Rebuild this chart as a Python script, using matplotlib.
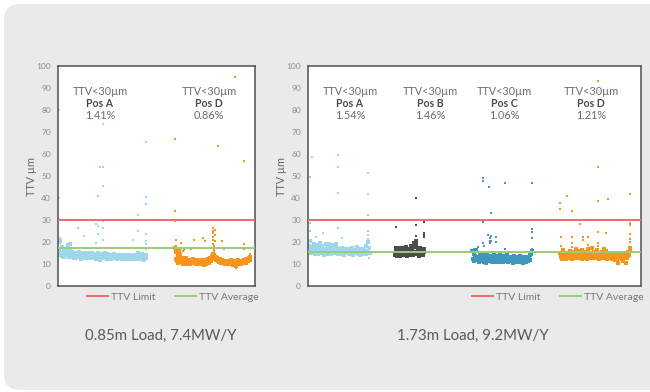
import numpy as np
import matplotlib
matplotlib.use("Agg")
import matplotlib.pyplot as plt
from matplotlib.patches import FancyBboxPatch
from matplotlib.lines import Line2D
from matplotlib.transforms import IdentityTransform

plt.rcParams['font.family'] = ['Lato', 'DejaVu Sans']

# ---------------- data ----------------
TTV_LIMIT = 30
avg_left = 17.3
avg_right = 15.3

pos_colors = {"Pos A": "#9fd7ea", "Pos B": "#4d4d4d", "Pos C": "#3e98bb", "Pos D": "#f7941e"}

# 0.85m load: per-position TTV readings (µm), in measurement order
left_a = [16.8, 14.2, 20.5, 15.1, 13.6, 17.9, 14.8, 13.2, 15.9, 14.4, 16.2, 13.8, 15.3, 18.6, 14.1,
          13.4, 16.0, 18.9, 14.7, 13.1, 15.5, 14.0, 12.8, 15.2, 13.9, 14.6, 12.9, 15.0, 14.3, 13.5,
          15.4, 13.0, 14.8, 12.4, 14.1, 15.2, 13.6, 12.9, 14.5, 13.3, 15.0, 13.8, 12.6, 14.4, 13.2,
          14.9, 13.5, 12.7, 14.2, 13.9, 15.1, 12.8, 13.7, 14.6, 13.1, 12.5, 14.3, 13.6, 15.0, 12.9,
          14.0, 13.3, 11.6, 14.7, 13.4, 12.8, 14.1, 13.7, 12.6, 14.8, 13.0, 13.9, 12.5, 14.4, 13.2,
          12.9, 14.2, 13.6, 12.3, 14.0, 13.4, 12.8, 14.5, 13.1, 12.6, 13.8, 14.1, 12.4, 13.5, 12.9,
          14.3, 13.2, 12.7, 13.9, 12.5, 13.6, 14.0, 12.3, 13.3, 12.8, 14.2, 13.0, 12.6, 13.7, 12.2,
          13.4, 14.1, 12.7, 13.1, 12.4, 13.8, 12.9, 13.5, 12.1, 14.0, 13.2, 12.6, 13.6, 12.3, 15.1,
          13.0, 12.5, 13.7, 12.2, 13.3, 14.6, 12.8, 13.4, 12.0, 13.1, 14.2, 12.6]
left_a_out_idx = [0, 0, 0, 1, 2, 28, 37, 55, 55, 58, 58, 58, 61, 66, 66, 66, 66, 66, 66,
                  111, 118, 118, 130, 130, 130, 131, 131, 131, 131]
left_a_out_val = [80.0, 40.0, 30.5, 22.0, 19.5, 26.5, 22.7, 28.0, 19.5, 41.0, 27.5, 23.8, 54.0,
                  54.0, 73.6, 45.6, 29.5, 26.5, 21.0, 21.0, 32.4, 25.2, 65.3, 40.5, 37.4,
                  23.8, 20.5, 19.0, 17.0]

left_d = [17.2, 12.4, 15.6, 11.3, 13.8, 10.6, 16.4, 11.9, 14.5, 10.9, 12.8, 11.5, 10.2, 12.1, 11.0,
          10.5, 11.8, 12.6, 10.1, 11.4, 10.8, 12.0, 9.9, 11.2, 10.6, 11.7, 10.3, 12.2, 11.0, 10.4,
          11.5, 10.0, 11.9, 10.7, 11.1, 9.8, 11.6, 10.4, 12.0, 10.9, 10.2, 11.3, 10.6, 9.7, 11.8,
          10.5, 11.0, 10.1, 11.7, 10.8, 12.3, 10.4, 11.5, 12.8, 11.2, 13.5, 12.1, 14.6, 12.9, 13.9,
          12.4, 13.2, 11.8, 12.6, 11.3, 11.9, 10.9, 12.2, 11.1, 10.6, 11.6, 10.3, 11.0, 10.7, 11.4,
          10.2, 11.1, 10.8, 9.9, 11.5, 10.5, 11.2, 10.0, 10.8, 11.6, 10.3, 11.0, 9.6, 10.7, 11.3,
          10.4, 9.2, 11.1, 10.6, 10.9, 11.8, 10.1, 10.5, 11.4, 9.9, 10.8, 11.2, 10.3, 11.6, 10.7,
          11.0, 12.1, 10.6, 11.8, 12.5, 11.3, 12.9, 11.7, 13.4]
left_d_out_idx = [0, 0, 0, 1, 1, 1, 2, 9, 12, 13, 24, 28, 42, 45, 57, 57, 57, 57, 57, 57, 57, 58,
                  58, 58, 60, 60, 60, 64, 70, 73, 90, 91, 103, 103, 104, 112, 113]
left_d_out_val = [66.7, 33.9, 29.5, 21.0, 18.0, 16.5, 15.0, 19.7, 16.0, 16.3, 16.9, 21.0, 21.8,
                  20.4, 26.5, 25.0, 24.0, 22.5, 21.0, 19.0, 17.5, 18.3, 16.8, 15.9, 25.5, 23.0,
                  20.3, 63.6, 20.4, 16.8, 95.2, 8.0, 18.9, 57.0, 17.0, 14.5, 13.8]

# 1.73m load
right_a = [18.2, 15.1, 20.4, 16.6, 14.8, 17.9, 15.5, 19.2, 16.1, 14.6, 17.3, 18.8, 15.0, 16.9, 14.4,
           17.6, 15.8, 19.5, 16.3, 14.9, 18.1, 15.4, 17.0, 14.3, 16.7, 18.9, 15.2, 17.4, 14.7, 16.0,
           19.0, 15.6, 17.8, 14.5, 16.4, 18.5, 15.1, 17.2, 14.8, 16.8, 19.3, 15.3, 17.5, 14.6, 16.2,
           15.0, 16.9, 14.4, 15.8, 17.1, 14.9, 16.3, 15.4, 14.2, 16.6, 15.7, 14.8, 17.0, 15.2, 16.1,
           14.5, 15.9, 16.8, 14.7, 15.5, 17.2, 14.3, 16.0, 15.3, 14.9, 16.5, 15.1, 17.6, 14.6, 15.8,
           16.4, 14.2, 15.6, 17.0, 14.8, 16.2, 15.4, 14.5, 16.7, 15.0, 18.4, 14.7, 16.1, 19.8, 15.2,
           17.5, 14.9]
right_a_out_idx = [1, 4, 2, 1, 10, 21, 43, 43, 43, 43, 49, 88, 88, 88, 88, 88, 89, 89, 90]
right_a_out_val = [49.7, 58.5, 28.6, 24.8, 22.5, 24.0, 59.7, 54.3, 42.2, 26.2, 22.0, 51.2, 41.8,
                   32.5, 24.8, 23.3, 21.5, 20.0, 12.8]

right_b = [14.2, 17.1, 15.3, 13.8, 16.5, 14.7, 17.4, 13.6, 15.9, 16.8, 14.1, 15.4, 17.2, 13.9, 16.1,
           14.5, 17.6, 15.0, 13.7, 16.3, 14.8, 17.0, 15.6, 14.0, 18.1, 15.2, 16.7, 14.3, 17.8, 19.4,
           15.5, 18.6, 20.3, 14.6, 17.3, 16.0, 13.8, 15.7, 17.5, 14.4, 16.4, 15.1, 14.0, 16.9, 15.3]
right_b_out_idx = [1, 31, 31, 32, 43, 43, 44, 44]
right_b_out_val = [27.0, 40.1, 27.8, 22.8, 24.2, 22.4, 29.0, 23.0]

right_c = [15.8, 12.4, 14.6, 11.3, 13.7, 12.0, 16.2, 11.6, 13.1, 12.7, 10.8, 14.0, 12.3, 11.5, 13.4,
           12.1, 14.3, 11.0, 12.8, 13.6, 10.6, 12.5, 14.1, 11.7, 13.2, 12.0, 11.2, 13.8, 12.6, 10.9,
           13.0, 11.8, 14.4, 12.2, 11.4, 13.5, 10.7, 12.9, 11.9, 13.3, 12.4, 11.1, 14.0, 12.7, 11.5,
           13.1, 10.9, 12.3, 13.7, 11.6, 12.8, 11.2, 14.2, 12.0, 10.8, 13.4, 11.7, 12.5, 13.0, 11.3,
           12.6, 10.5, 13.6, 11.9, 12.2, 11.0, 13.2, 12.7, 11.4, 10.7, 12.9, 11.8, 13.5, 12.1, 11.1,
           12.4, 10.6, 13.0, 11.5, 12.8, 10.9, 11.7, 13.3, 12.0, 11.2, 12.6, 13.9, 11.8, 14.6, 15.9]
right_c_out_idx = [2, 3, 9, 16, 16, 16, 16, 17, 24, 25, 26, 27, 27, 28, 28, 28, 36, 36, 49, 49,
                   89, 89, 89, 89, 89]
right_c_out_val = [17.0, 15.5, 17.9, 48.9, 47.9, 29.2, 19.5, 18.3, 23.2, 45.2, 21.8, 20.6, 19.5,
                   33.3, 22.6, 20.5, 22.3, 20.0, 46.9, 16.7, 47.0, 25.8, 24.7, 21.7, 16.8]

right_d = [15.2, 13.1, 14.6, 12.4, 16.3, 13.8, 12.9, 14.2, 13.5, 12.2, 15.0, 13.3, 14.4, 12.7, 13.9,
           16.1, 13.0, 14.8, 12.5, 13.6, 15.4, 12.8, 14.1, 13.4, 17.0, 12.6, 14.5, 13.2, 15.7, 12.9,
           14.3, 13.7, 16.5, 12.4, 13.9, 14.9, 12.7, 15.3, 13.5, 14.0, 12.3, 16.8, 13.1, 14.6, 12.8,
           15.1, 13.6, 14.2, 17.3, 12.9, 13.8, 15.6, 12.6, 14.4, 13.3, 16.2, 13.0, 14.7, 12.5, 15.0,
           13.7, 14.1, 12.8, 15.5, 13.4, 16.9, 12.7, 14.3, 13.2, 15.8, 12.4, 13.9, 14.8, 13.0, 12.6,
           14.5, 13.5, 12.2, 15.2, 13.8, 12.9, 14.0, 11.6, 13.3, 14.6, 12.5, 13.7, 10.6, 14.2, 12.8,
           13.1, 15.0, 12.3, 13.6, 11.2, 14.4, 12.7, 13.4, 10.5, 14.9, 12.9, 13.8, 15.6, 14.2, 17.1,
           16.0]
right_d_out_idx = [0, 0, 1, 1, 10, 18, 18, 18, 18, 30, 34, 34, 42, 42, 57, 57, 57, 57, 57, 57,
                   69, 72, 104, 104, 104, 104, 105, 105]
right_d_out_val = [37.9, 35.0, 22.4, 18.2, 40.8, 34.0, 22.1, 19.7, 17.6, 28.0, 22.3, 21.0, 22.4,
                   18.6, 93.3, 54.2, 38.5, 24.5, 19.7, 18.2, 24.0, 39.7, 27.7, 23.6, 21.4, 19.9,
                   41.7, 28.6]

# (position, share below the 30 µm limit, readings, outlier indices, outlier values,
#  first sample number, sample number the label is centred on)
left_groups = [
    ("Pos A", "1.41%", left_a, left_a_out_idx, left_a_out_val, 0, 61.5),
    ("Pos D", "0.86%", left_d, left_d_out_idx, left_d_out_val, 174, 225),
]
right_groups = [
    ("Pos A", "1.54%", right_a, right_a_out_idx, right_a_out_val, 0, 61.5),
    ("Pos B", "1.46%", right_b, right_b_out_idx, right_b_out_val, 129, 181.5),
    ("Pos C", "1.06%", right_c, right_c_out_idx, right_c_out_val, 245, 292.5),
    ("Pos D", "1.21%", right_d, right_d_out_idx, right_d_out_val, 377, 423),
]
yticks = list(range(0, 101, 10))
captions = ["0.85m Load, 7.4MW/Y", "1.73m Load, 9.2MW/Y"]

# ---------------- figure ----------------
W, H = 650, 392
fig = plt.figure(figsize=(W / 100, H / 100), dpi=100)
fig.patch.set_facecolor("white")

panel = FancyBboxPatch((4, 2), 680, 386, boxstyle="round,pad=0,rounding_size=16",
                       transform=IdentityTransform(), facecolor="#eaeaea",
                       edgecolor="none", zorder=-10)
fig.patches.append(panel)


def px_axes(x0, x1, ytop, ybot):
    return fig.add_axes([x0 / W, 1 - ybot / H, (x1 - x0) / W, (ybot - ytop) / H])


def draw_panel(ax, groups, avg, xmax):
    for name, pct, vals, oidx, oval, off, xc in groups:
        c = pos_colors[name]
        x = off + np.arange(len(vals))
        ax.plot(x, vals, linestyle="none", marker="s", markersize=2.6,
                markeredgewidth=0, color=c, zorder=2)
        ax.plot(off + np.array(oidx), oval, linestyle="none", marker="s",
                markersize=1.7, markeredgewidth=0, color=c, zorder=2)
        ax.text(xc, 88.2, "TTV<30µm", ha="center", va="center", fontsize=7.8, color="#6b6b6b")
        ax.text(xc, 83.0, name, ha="center", va="center", fontsize=7.6, color="#4a4a4a",
                fontweight="bold")
        ax.text(xc, 77.6, pct, ha="center", va="center", fontsize=7.8, color="#6b6b6b")
    ax.axhline(TTV_LIMIT, color="#ef6a6e", lw=1.4, zorder=3)
    ax.axhline(avg, color="#9ccb78", lw=1.4, zorder=3)
    ax.set_xlim(-1.5, xmax)
    ax.set_ylim(0, 100)
    ax.set_yticks(yticks)
    ax.set_xticks([])
    ax.tick_params(axis="y", length=0, labelsize=6, labelcolor="#8c8c8c", pad=5)
    for s in ax.spines.values():
        s.set_color("#505050")
        s.set_linewidth(1.1)
    ax.set_ylabel("TTV µm", fontsize=7.8, color="#666666", labelpad=0)
    ax.yaxis.set_label_coords(-21 / (ax.get_position().width * W), 0.5)
    ax.set_facecolor("white")


ax1 = px_axes(58, 255, 66, 286)
draw_panel(ax1, left_groups, avg_left, -1.5 + 197 * 1.5)
ax2 = px_axes(308, 641, 66, 286)
draw_panel(ax2, right_groups, avg_right, -1.5 + 333 * 1.5)

handles = [Line2D([], [], color="#ef6a6e", lw=1.4), Line2D([], [], color="#9ccb78", lw=1.4)]
labels = ["TTV Limit", "TTV Average"]
for ax, xl in ((ax1, 87), (ax2, 472)):
    ax.legend(handles, labels, ncol=2, loc="center left", frameon=False,
              bbox_to_anchor=(xl / W, 1 - 297 / H), bbox_transform=fig.transFigure,
              fontsize=7.5, labelcolor="#777777", handlelength=2.0, handletextpad=0.3,
              columnspacing=1.9, borderpad=0, borderaxespad=0)

fig.text(161 / W, 1 - 336 / H, captions[0], ha="center", va="center", fontsize=10.8,
         color="#5a5a5a")
fig.text(473 / W, 1 - 336 / H, captions[1], ha="center", va="center", fontsize=10.8,
         color="#5a5a5a")

fig.savefig("out.png", dpi=100, facecolor=fig.get_facecolor())
